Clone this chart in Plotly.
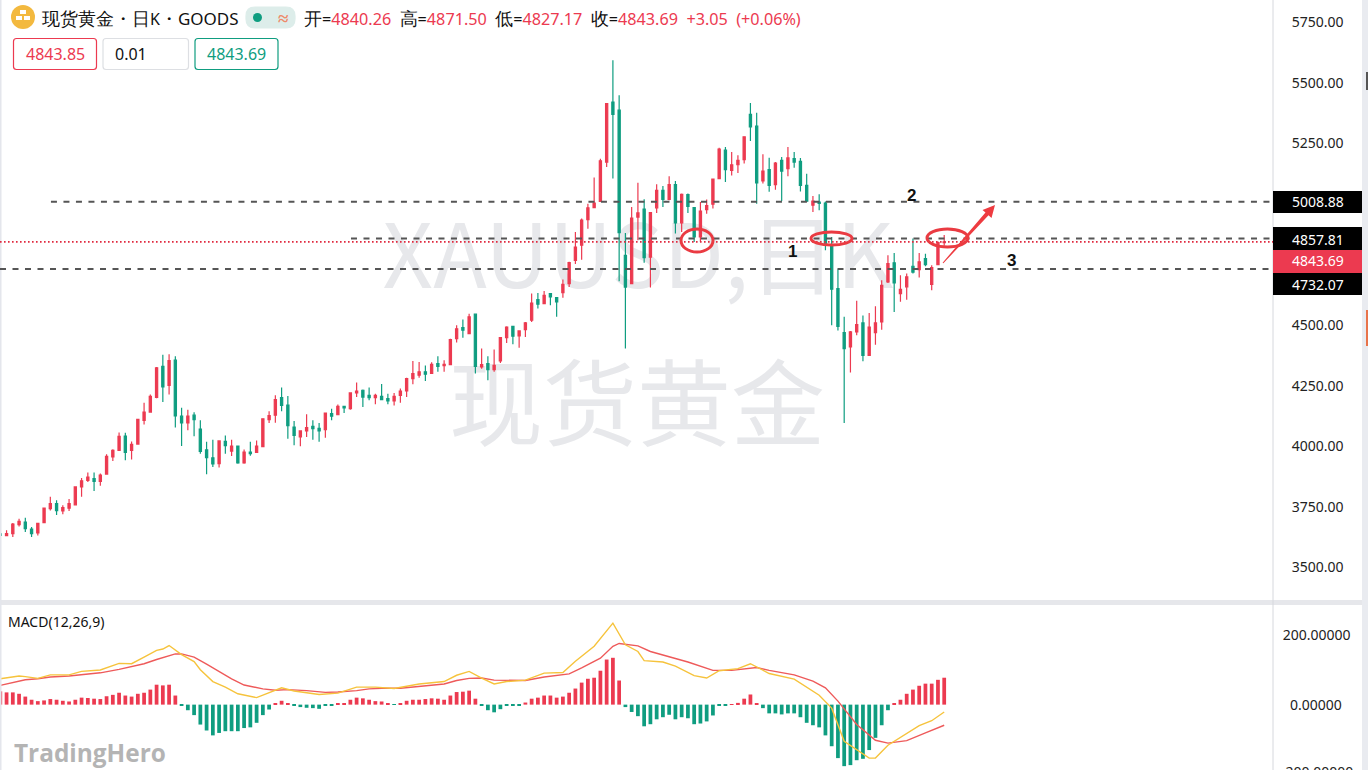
import plotly.graph_objects as go
from plotly.subplots import make_subplots

# daily candles
opens = [3638, 3631, 3639, 3676, 3687, 3658, 3642, 3685, 3742, 3763, 3733, 3744, 3758, 3832, 3859, 3866, 3855, 3885, 3956, 3983,
         4042, 3983, 4009, 4107, 4141, 4202, 4330, 4251, 4355, 4124, 4096, 4128, 4071, 3985, 3952, 3928, 4020, 3980, 4001, 3931,
         3976, 3974, 3998, 4110, 4128, 4201, 4170, 4079, 4038, 4063, 4082, 4074, 4068, 4135, 4130, 4165, 4155, 4220, 4231, 4210,
         4201, 4206, 4197, 4187, 4210, 4228, 4279, 4293, 4307, 4301, 4341, 4333, 4337, 4444, 4490, 4465, 4545, 4327, 4341, 4316,
         4352, 4448, 4495, 4455, 4481, 4520, 4605, 4589, 4630, 4613, 4634, 4671, 4767, 4830, 4935, 4985, 5011, 5173, 5421, 5387,
         4788, 4671, 4946, 4979, 4781, 4984, 5056, 5019, 5080, 4922, 5039, 4985, 4864, 4977, 4999, 5105, 5222, 5139, 5162, 5183,
         5370, 5321, 5095, 5142, 5080, 5180, 5146, 5187, 5176, 5077, 4995, 5008, 5004, 4830, 4651, 4469, 4410, 4472, 4509, 4375,
         4469, 4513, 4678, 4757, 4630, 4658, 4743, 4729, 4774, 4668, 4750, 4840.26]
highs = [3642, 3653, 3683, 3701, 3705, 3667, 3683, 3746, 3791, 3777, 3756, 3782, 3833, 3869, 3892, 3892, 3887, 3967, 3987, 4057,
         4056, 4020, 4111, 4179, 4213, 4327, 4378, 4380, 4371, 4159, 4151, 4140, 4107, 4018, 4027, 4024, 4044, 4027, 4002, 3986,
         4018, 4024, 4114, 4144, 4210, 4242, 4207, 4104, 4066, 4132, 4107, 4096, 4138, 4155, 4172, 4166, 4223, 4263, 4234, 4242,
         4217, 4257, 4217, 4220, 4238, 4283, 4352, 4348, 4333, 4347, 4371, 4355, 4444, 4499, 4523, 4547, 4547, 4403, 4371, 4399,
         4451, 4495, 4496, 4479, 4513, 4630, 4633, 4641, 4630, 4613, 4688, 4761, 4884, 4940, 5001, 5109, 5187, 5414, 5593, 5449,
         4880, 4988, 5088, 5019, 4967, 5081, 5074, 5114, 5095, 5043, 5043, 4988, 5008, 5018, 5103, 5232, 5235, 5215, 5201, 5277,
         5417, 5377, 5205, 5191, 5173, 5194, 5235, 5215, 5190, 5125, 5033, 5040, 5010, 4864, 4729, 4534, 4476, 4600, 4540, 4550,
         4578, 4685, 4788, 4798, 4706, 4713, 4857, 4798, 4795, 4747, 4845, 4871.50]
lows = [3628, 3628, 3625, 3669, 3646, 3625, 3631, 3683, 3735, 3716, 3719, 3733, 3756, 3791, 3852, 3815, 3837, 3884, 3939, 3980,
        3942, 3945, 4008, 4090, 4139, 4198, 4183, 4214, 4077, 4001, 4066, 4041, 3969, 3884, 3914, 3912, 3969, 3960, 3928, 3928,
        3961, 3972, 3997, 4096, 4097, 4144, 4031, 4004, 4000, 4038, 4027, 4018, 4035, 4107, 4128, 4137, 4151, 4203, 4162, 4190,
        4173, 4190, 4173, 4168, 4179, 4203, 4256, 4283, 4269, 4300, 4307, 4307, 4334, 4428, 4448, 4462, 4300, 4320, 4272, 4307,
        4344, 4426, 4421, 4406, 4451, 4513, 4568, 4586, 4582, 4534, 4613, 4657, 4752, 4770, 4898, 4983, 5008, 5153, 5105, 4681,
        4403, 4671, 4850, 4757, 4655, 4963, 4988, 5015, 4878, 4884, 4963, 4843, 4843, 4960, 4981, 5105, 5091, 5118, 5128, 5167,
        5260, 5001, 5084, 5050, 5059, 5012, 5114, 5150, 5052, 5008, 4967, 4974, 4809, 4499, 4478, 4096, 4304, 4458, 4351, 4375,
        4419, 4481, 4674, 4554, 4596, 4605, 4713, 4696, 4743, 4644, 4748, 4827.17]
closes = [3632, 3639, 3678, 3690, 3660, 3639, 3682, 3745, 3763, 3734, 3747, 3763, 3832, 3857, 3873, 3855, 3881, 3958, 3983, 4041,
          3975, 4008, 4111, 4141, 4206, 4324, 4245, 4353, 4125, 4096, 4124, 4110, 3979, 3953, 3927, 4022, 4002, 4000, 3931, 3976,
          3969, 4000, 4113, 4126, 4192, 4169, 4085, 4045, 4063, 4077, 4073, 4063, 4137, 4124, 4165, 4158, 4220, 4228, 4203, 4201,
          4210, 4192, 4187, 4206, 4228, 4279, 4300, 4307, 4297, 4338, 4330, 4338, 4440, 4485, 4479, 4534, 4330, 4337, 4316, 4334,
          4448, 4492, 4454, 4476, 4509, 4591, 4586, 4623, 4616, 4596, 4668, 4758, 4822, 4933, 4984, 5004, 5178, 5414, 5370, 4882,
          4657, 4942, 4963, 4778, 4964, 5056, 5019, 5080, 4922, 5040, 4990, 4864, 4971, 4993, 5103, 5226, 5142, 5162, 5180, 5277,
          5318, 5087, 5136, 5077, 5169, 5136, 5190, 5173, 5077, 5012, 5012, 5002, 4830, 4648, 4495, 4403, 4472, 4502, 4375, 4492,
          4509, 4664, 4754, 4674, 4648, 4699, 4719, 4761, 4750, 4737, 4840.64, 4843.69]

# MACD pane
macd_hist = [38, 35, 35, 31, 23, 14, 10, 12, 16, 14, 11, 9, 14, 20, 19, 17, 16, 24, 28, 34, 26, 23, 31, 34, 43, 57, 55, 57, 26,
             -2, -16, -30, -57, -74, -88, -81, -76, -76, -76, -67, -65, -52, -30, -14,
             2, 11, 4, -3, -7, -9, -10, -12, -2, -2,
             2, 4, 14, 20, 18, 14, 10, 9, 2, -1, 3, 11, 14, 14, 16, 18, 17, 14, 26, 36, 37, 40, 17,
             -3, -16, -22, -13, -2, -3, -2,
             6, 17, 20, 26, 26, 20, 23, 34, 46, 63, 74, 77, 97, 129, 134, 69,
             -7, -21, -33, -62, -56, -42, -36, -29, -42, -36, -39, -56, -54, -48, -31, -2, -2,
             1, 5, 17, 29, 3,
             -10, -25, -25, -28, -25, -25, -36, -52, -59, -65, -88, -119, -153, -176, -173, -159, -155, -130, -95, -59, -16,
             3, 14, 31, 43, 54, 60, 60, 71, 77]
dif_idx = [0, 3, 4, 6, 8, 11, 13, 16, 19, 21, 23, 25, 26, 27, 29, 31, 32, 34, 36, 38, 41, 43, 45, 47, 51, 54, 57, 60, 63, 67, 71,
           73, 75, 77, 79, 81, 84, 87, 90, 92, 95, 98, 100, 102, 103, 106, 108, 111, 113, 115, 118, 120, 123, 127, 131, 133,
           135, 139, 140, 142, 147, 149, 151]
dif_vals = [74, 82, 80, 75, 85, 85, 95, 99, 118, 117, 136, 155, 159, 169, 143, 123, 100, 66, 50, 31, 20, 33, 48, 39, 29, 33, 50,
            50, 46, 59, 66, 84, 95, 76, 59, 66, 70, 90, 92, 124, 167, 233, 171, 152, 126, 122, 110, 83, 76, 97, 103, 117, 89,
            73, 27, -10, -105, -153, -153, -116, -60, -46, -21]
dea_idx = [0, 2, 4, 6, 8, 11, 13, 16, 19, 21, 23, 25, 27, 28, 29, 31, 33, 35, 37, 39, 42, 44, 46, 49, 52, 54, 57, 59, 61, 64, 67,
           71, 73, 75, 77, 79, 84, 87, 91, 93, 96, 98, 99, 102, 104, 107, 110, 114, 117, 121, 123, 127, 130, 132, 134, 137,
           140, 142, 145, 148, 151]
dea_vals = [55, 64, 71, 74, 79, 82, 86, 91, 101, 109, 117, 129, 141, 145, 145, 136, 116, 95, 74, 56, 45, 41, 43, 40, 35, 36, 40,
            45, 47, 47, 52, 59, 69, 75, 76, 70, 69, 79, 88, 105, 133, 167, 175, 168, 152, 138, 122, 98, 98, 106, 98, 85, 67,
            48, 10, -57, -102, -110, -103, -81, -59]

# 4750 and 5000 sit behind the price tags in the original
price_ticks = [3500, 3750, 4000, 4250, 4500, 5250, 5500, 5750]
macd_ticks = [200, 0]
level_1 = 4857.81
level_2 = 5008.88
level_3 = 4732.07
last_price = 4843.69

RED = "#EC3A50"
GREEN = "#0F9D80"
GREY_BAND = "#E6E7EB"
WATERMARK = "#E7E8EB"
FONT = "Noto Sans"
CJK = "Noto Sans CJK SC"

W, H = 1368, 770
xs = list(range(len(closes)))


def px(x):
    return x / W


def py(y):
    return 1 - y / H


def box(x0, y0, x1, y1, **kw):
    return dict(type="rect", xref="paper", yref="paper", x0=px(x0), x1=px(x1), y0=py(y1), y1=py(y0), **kw)


def round_box(x0, y0, x1, y1, color, r=3):
    rx, ry = r / W, r / H
    a, b, c, d = px(x0), px(x1), py(y0), py(y1)
    path = (f"M {a+rx} {c} L {b-rx} {c} Q {b} {c} {b} {c-ry} L {b} {d+ry} Q {b} {d} {b-rx} {d} "
            f"L {a+rx} {d} Q {a} {d} {a} {d+ry} L {a} {c-ry} Q {a} {c} {a+rx} {c} Z")
    return dict(type="path", xref="paper", yref="paper", path=path, line=dict(color=color, width=1.2))


def polygon(points, color):
    path = "M " + " L ".join(f"{px(x)} {py(y)}" for x, y in points) + " Z"
    return dict(type="path", xref="paper", yref="paper", path=path, fillcolor=color, line_width=0)


def ellipse(x0, y0, x1, y1, **kw):
    return dict(type="circle", xref="paper", yref="paper", x0=px(x0), x1=px(x1), y0=py(y1), y1=py(y0), **kw)


def label(x, y, text, size=14, color="#111111", family=FONT, anchor="left"):
    return dict(xref="paper", yref="paper", x=px(x), y=py(y), text=text, showarrow=False, xanchor=anchor,
                yanchor="middle", font=dict(size=size, color=color, family=family))


def level_line(x0, y, **line):
    return dict(type="line", xref="x", yref="y", x0=x0, x1=203.6, y0=y, y1=y, line=line)


fig = make_subplots(rows=2, cols=1)

fig.add_trace(go.Candlestick(x=xs, open=opens, high=highs, low=lows, close=closes,
                             increasing=dict(line=dict(color=RED, width=1.2), fillcolor=RED),
                             decreasing=dict(line=dict(color=GREEN, width=1.2), fillcolor=GREEN),
                             whiskerwidth=0), row=1, col=1)
fig.add_trace(go.Bar(x=xs, y=macd_hist, width=0.6, marker_line_width=0,
                     marker_color=[RED if v >= 0 else GREEN for v in macd_hist]), row=2, col=1)
fig.add_trace(go.Scatter(x=dea_idx, y=dea_vals, mode="lines", line=dict(color="#EE5A5A", width=1.4)), row=2, col=1)
fig.add_trace(go.Scatter(x=dif_idx, y=dif_vals, mode="lines", line=dict(color="#F6C33C", width=1.4)), row=2, col=1)

x_range = [-0.05, 203.6]
fig.update_xaxes(range=x_range, showgrid=False, zeroline=False, showticklabels=False, showline=False, ticks="",
                 rangeslider_visible=False)
fig.update_layout(xaxis=dict(domain=[0, 1273 / W]), xaxis2=dict(domain=[0, 1273 / W]))

fig.update_yaxes(side="right", showgrid=False, zeroline=False, showline=False, ticks="outside",
                 tickcolor="rgba(0,0,0,0)", tickfont=dict(family=FONT, size=14, color="#222222"))
fig.update_layout(
    yaxis=dict(domain=[170 / H, 1], range=[3365.2, 5842], tickvals=price_ticks,
               ticktext=[f"{v:.2f}" for v in price_ticks], ticklen=15),
    yaxis2=dict(domain=[0, 165 / H], range=[-187, 285], tickvals=macd_ticks,
                ticktext=["200.00000", "\u00a0\u00a00.00000"], ticklen=6),
)

shapes = [
    # watermarks go under the candles
    dict(type="rect", xref="paper", yref="paper", x0=px(298), x1=px(978), y0=py(318), y1=py(208),
         fillcolor="rgba(0,0,0,0)", line_width=0, layer="below",
         label=dict(text="XAUUSD,日K", textposition="middle center",
                    font=dict(size=88, color=WATERMARK, family=CJK))),
    dict(type="rect", xref="paper", yref="paper", x0=px(397), x1=px(877), y0=py(470), y1=py(355),
         fillcolor="rgba(0,0,0,0)", line_width=0, layer="below",
         label=dict(text="现货黄金", textposition="middle center",
                    font=dict(size=94, color=WATERMARK, family=CJK))),
    # pane frame
    box(0, 600, 1362, 605, fillcolor=GREY_BAND, line_width=0),
    box(1362, 0, 1368, 770, fillcolor="#E9EBF0", line_width=0),
    box(0, 0, 1.5, 770, fillcolor="#E4E6EC", line_width=0),
    box(1366, 310, 1368, 346, fillcolor="#E8734A", line_width=0),
    box(1366, 72, 1368, 90, fillcolor="#555555", line_width=0),
    dict(type="line", xref="paper", yref="paper", x0=px(1273), x1=px(1273), y0=0, y1=1,
         line=dict(color="#D6D8DD", width=1)),
    # drawn levels
    level_line(8.1, level_2, color="#555555", width=2, dash="6px,6.5px"),
    level_line(56.1, level_1, color="#555555", width=2, dash="6px,6.5px"),
    level_line(-0.05, level_3, color="#555555", width=2, dash="6px,6.5px"),
    level_line(-0.05, last_price, color="#E0293F", width=1.6, dash="1.6px,2.4px"),
    # red ellipses
    ellipse(681, 229, 713, 252, line=dict(color="#EA3B42", width=3)),
    ellipse(811, 232, 852, 245, line=dict(color="#EA3B42", width=3)),
    ellipse(927, 229, 968, 247, line=dict(color="#EA3B42", width=3)),
    # hand drawn arrow, thin at the tail and fat at the head
    polygon([(942.6, 262.7), (985.5, 212.6), (982.5, 209.9), (995, 205), (991.5, 217.9), (988.5, 215.2), (943.4, 263.3)],
            "#EE3B40"),
    # price tags on the axis
    box(1273, 191, 1362, 213, fillcolor="#000000", line_width=0),
    box(1273, 227, 1362, 250, fillcolor="#000000", line_width=0),
    box(1273, 250, 1362, 273, fillcolor=RED, line_width=0),
    box(1273, 273, 1362, 295, fillcolor="#000000", line_width=0),
    # header widgets
    ellipse(11, 5, 35, 29, fillcolor="#F3B93F", line_width=0),
    box(20, 10, 26, 14, fillcolor="#FFFFFF", line_width=0),
    box(16, 16, 22, 20, fillcolor="#FFFFFF", line_width=0),
    box(24, 16, 30, 20, fillcolor="#FFFFFF", line_width=0),
    round_box(246, 7, 295, 28, "#DDEDEA", r=9) | dict(fillcolor="#DDEDEA"),
    ellipse(253, 13, 262, 22, fillcolor=GREEN, line_width=0),
    round_box(13.5, 38.5, 96.5, 69.5, RED),
    round_box(103, 38.5, 188.5, 69.5, "#DDDFE3"),
    round_box(195, 38.5, 278, 69.5, GREEN),
]

quote = ("<span style='font-size:18px'>开</span>=<span style='color:{r}'>4840.26</span>  "
         "<span style='font-size:18px'>高</span>=<span style='color:{r}'>4871.50</span>  "
         "<span style='font-size:18px'>低</span>=<span style='color:{r}'>4827.17</span>  "
         "<span style='font-size:18px'>收</span>=<span style='color:{r}'>4843.69</span>  "
         "<span style='color:{r}'>+3.05</span>  <span style='color:{r}'>(+0.06%)</span>").format(r=RED)

annotations = [
    label(40, 18, "<span style='font-size:18px'>现货黄金・日</span>K<span style='font-size:18px'>・</span>"
                  "<span style='font-size:17px'>GOODS</span>", 16),
    label(283, 18, "<b>≈</b>", 19, "#EE8A6A", anchor="center"),
    label(301.5, 18, quote, 16.2),
    label(55, 54, "4843.85", 16, RED, anchor="center"),
    label(113, 54, "0.01", 16),
    label(236.5, 54, "4843.69", 16, GREEN, anchor="center"),
    label(6, 621, "MACD(12,26,9)", 14),
    label(12, 752.5, "<b>TradingHero</b>", 24.4, "#B4B4B4", "Open Sans"),
    label(1317.5, 202, "5008.88", 14, "#FFFFFF", anchor="center"),
    label(1317.5, 239, "4857.81", 14, "#FFFFFF", anchor="center"),
    label(1317.5, 261, "4843.69", 14, "#FFFFFF", anchor="center"),
    label(1317.5, 284, "4732.07", 14, "#FFFFFF", anchor="center"),
    label(1317, 771, "-200.00000", 14, "#222222", anchor="center"),
    label(792, 251, "<b>1</b>", 17, "#111111", "Liberation Sans", "center"),
    label(911, 195, "<b>2</b>", 17, "#111111", "Liberation Sans", "center"),
    label(1011, 261, "<b>3</b>", 17, "#111111", "Liberation Sans", "center"),
]

fig.update_layout(
    width=W, height=H, margin=dict(l=0, r=0, t=0, b=0), autosize=False,
    paper_bgcolor="#FFFFFF", plot_bgcolor="#FFFFFF", showlegend=False, hovermode=False,
    boxgap=0.5, bargap=0.4, shapes=shapes, annotations=annotations,
)

fig.write_html("out.html", config={"displayModeBar": False},
               post_script="document.body.style.margin='0';")
